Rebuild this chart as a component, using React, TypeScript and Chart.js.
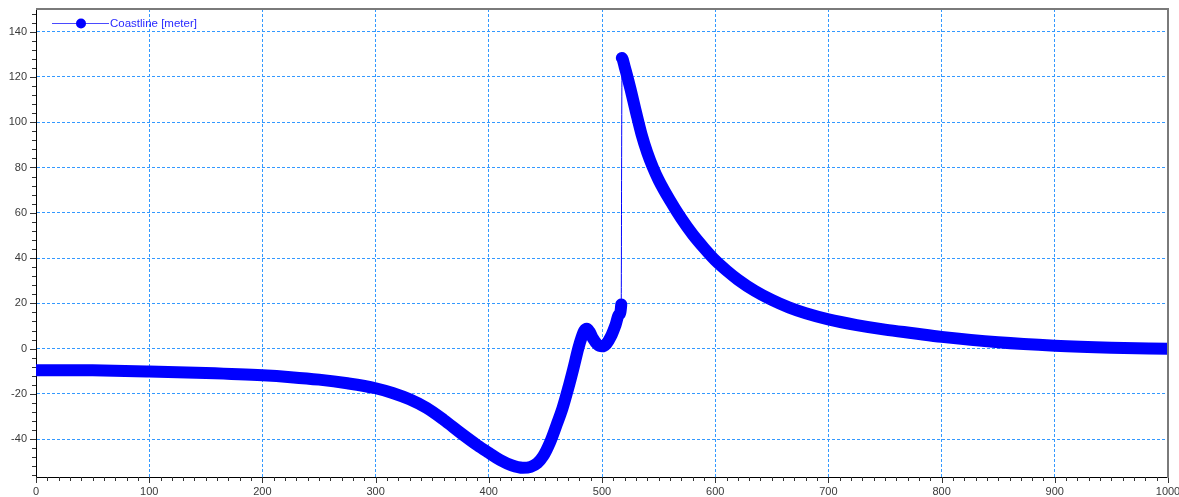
import React, { useEffect, useRef } from "react";
import { Chart, registerables } from "chart.js";

Chart.register(...registerables);

// Coastline position (x along shore, y offset in meters)
const xValues = [
  0, 50, 100, 150, 200, 225, 250, 275, 300, 315, 330, 345, 360, 375, 390, 400, 410, 420, 430, 437, 443, 448, 454, 460,
  465, 470, 475, 479, 482, 484.5, 486.5, 489, 492, 496, 500, 504, 508, 512, 515, 517,
  517.5, 520, 525, 530, 535, 540, 545, 550, 560, 570, 580, 590, 600, 610, 620, 635, 650, 665, 680, 700, 725, 750, 775,
  800, 850, 900, 950, 1000,
];
const yValues = [
  -9.5, -9.6, -10.1, -10.8, -11.8, -12.6, -13.7, -15.3, -17.5, -19.6, -22.4, -26.2, -31.4, -37.2, -42.7, -46, -49.2, -51.5, -52.6, -52.2, -50.5, -47.5, -41.5, -33.5,
  -26.5, -17.8, -8.2, 0, 5, 8, 8.8, 7.5, 4.5, 1.8, 1, 2.2, 5.5, 10.5, 15, 19.5,
  128.4, 124.5, 115, 104.5, 94.5, 86.5, 80, 74.5, 65.5, 57.5, 50.5, 44.5, 39, 34.5, 30.5, 25.5, 21.5, 18.2, 15.6, 12.9, 10.4, 8.4, 6.8,
  5.2, 2.8, 1.3, 0.4, -0.1,
];
const seriesLabel = "Coastline [meter]";
const jumpIndex = 39; // segment from the last low point to the first high point is drawn thin

const decorPlugin = {
  id: "decor",
  afterDraw(chart: any) {
    const { ctx, chartArea: a, scales } = chart;
    const xs = scales.x;
    const ys = scales.y;
    ctx.save();
    ctx.strokeStyle = "#333";
    ctx.lineWidth = 1;
    ctx.beginPath();
    for (let v = 0; v <= 1000; v += 10) {
      const px = Math.round(xs.getPixelForValue(v)) + 0.5;
      const len = v % 100 === 0 ? 6 : 4;
      ctx.moveTo(px, a.bottom);
      ctx.lineTo(px, a.bottom + len);
    }
    for (let v = -56; v <= 148; v += 4) {
      const py = Math.round(ys.getPixelForValue(v)) + 0.5;
      const len = v % 20 === 0 ? 6 : 4;
      ctx.moveTo(a.left, py);
      ctx.lineTo(a.left - len, py);
    }
    ctx.stroke();
    // gray frame (top, right)
    ctx.strokeStyle = "#7a7a7a";
    ctx.lineWidth = 2;
    ctx.beginPath();
    ctx.moveTo(a.left, a.top);
    ctx.lineTo(a.right, a.top);
    ctx.lineTo(a.right, a.bottom + 1);
    ctx.stroke();
    // legend
    ctx.strokeStyle = "#4a4aff";
    ctx.lineWidth = 1;
    ctx.beginPath();
    ctx.moveTo(52, 23.5);
    ctx.lineTo(109, 23.5);
    ctx.stroke();
    ctx.fillStyle = "#0000ff";
    ctx.beginPath();
    ctx.arc(81, 23.5, 5, 0, Math.PI * 2);
    ctx.fill();
    ctx.fillStyle = "#2a2aff";
    ctx.font = "11.5px 'Liberation Sans', Arial, sans-serif";
    ctx.textBaseline = "middle";
    ctx.textAlign = "left";
    ctx.fillText(seriesLabel, 110, 23.5);
    ctx.restore();
  },
};

const noPad = (s: any) => {
  s.paddingLeft = 0;
  s.paddingRight = 0;
  s.paddingTop = 0;
  s.paddingBottom = 0;
};

export default function App() {
  const ref = useRef<HTMLCanvasElement>(null);
  useEffect(() => {
    if (!ref.current) return;
    const data = xValues.map((x, i) => ({ x, y: yValues[i] }));
    const chart = new Chart(ref.current, {
      type: "line",
      data: {
        datasets: [
          {
            label: seriesLabel,
            data,
            borderColor: "#0000ff",
            backgroundColor: "#0000ff",
            borderWidth: 12,
            borderCapStyle: "round",
            borderJoinStyle: "round",
            cubicInterpolationMode: "monotone",
            pointRadius: 0,
            fill: false,
            segment: {
              borderWidth: (c: any) => (c.p0DataIndex === jumpIndex ? 1 : 12),
            },
          } as any,
        ],
      },
      options: {
        animation: false,
        responsive: false,
        layout: { padding: { top: 9, right: 11, left: 0, bottom: 0 } },
        plugins: { legend: { display: false }, tooltip: { enabled: false } },
        scales: {
          x: {
            type: "linear",
            min: 0,
            max: 1000,
            afterFit: (s: any) => {
              s.height = 20;
              noPad(s);
            },
            grid: { color: "#3399ff", lineWidth: 1, drawTicks: false },
            border: { color: "#000", width: 1, dash: [3, 2] },
            ticks: {
              stepSize: 100,
              autoSkip: false,
              maxRotation: 0,
              includeBounds: false,
              padding: 8,
              color: "#3a3a3a",
              callback: (v: any) => String(v),
              font: { family: "'Liberation Sans', Arial, sans-serif", size: 11 },
            },
          },
          y: {
            type: "linear",
            min: -56.7,
            max: 150,
            afterFit: (s: any) => {
              s.width = 36;
              noPad(s);
            },
            grid: { color: "#3399ff", lineWidth: 1, drawTicks: false },
            border: { color: "#000", width: 1, dash: [3, 2] },
            ticks: {
              stepSize: 20,
              includeBounds: false,
              padding: 9,
              color: "#3a3a3a",
              callback: (v: any) => String(v),
              font: { family: "'Liberation Sans', Arial, sans-serif", size: 11 },
            },
          },
        },
      },
      plugins: [decorPlugin],
    });
    return () => chart.destroy();
  }, []);
  return (
    <div style={{ position: "fixed", left: 0, top: 0, width: 1179, height: 497, background: "#fff" }}>
      <canvas ref={ref} width={1179} height={497} style={{ display: "block" }} />
    </div>
  );
}
